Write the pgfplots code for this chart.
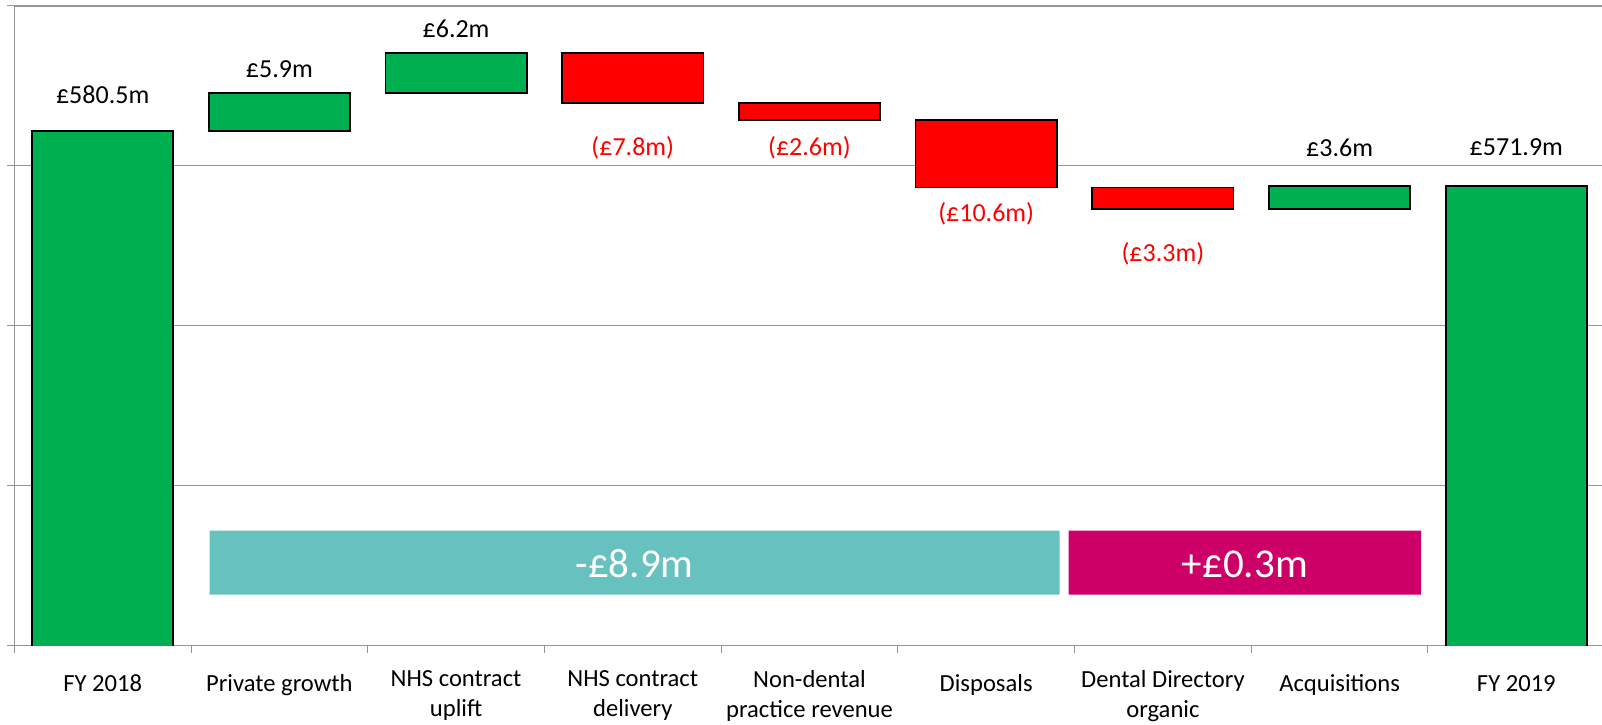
\documentclass[border=0pt]{standalone}
\usepackage{fontspec}
\setmainfont{Carlito}
\usepackage{pgfplots}
\usepackage{pgfplotstable}
\pgfplotsset{compat=1.18}
\definecolor{barg}{HTML}{00B050}
\definecolor{barr}{HTML}{FF0000}
\definecolor{bandteal}{HTML}{67C1BF}
\definecolor{bandmag}{HTML}{CC0066}
\definecolor{gridg}{RGB}{150,150,150}

\pgfplotstableread{
x base up down
0 0 580.5 0
1 580.5 5.9 0
2 586.4 6.2 0
3 584.8 0 7.8
4 582.2 0 2.6
5 571.6 0 10.6
6 568.3 0 3.3
7 568.3 3.6 0
8 0 571.9 0
}\wf

\pgfplotstableread{
x y label
0 584.8 £580.5m
1 588.85 £5.9m
2 595.1 £6.2m
7 576.4 £3.6m
8 576.6 £571.9m
}\poslab

\pgfplotstableread{
x y label
3 576.6 (£7.8m)
4 576.6 (£2.6m)
5 566.3 (£10.6m)
6 560.0 (£3.3m)
}\neglab

\pgfplotsset{common/.style={scale only axis, width=795.2pt, height=319.85pt,
  xmin=-0.5, xmax=8.5, ymin=500, ymax=600},
  labelplot/.style={only marks, mark=*, mark size=0pt,
  scatter/use mapped color={draw=none, fill=none},
  point meta=explicit symbolic, nodes near coords,
  every node near coord/.append style={anchor=base, inner sep=0pt, font=\fontsize{13}{15}\selectfont, text=#1}}}

\begin{document}
\begin{tikzpicture}
\begin{axis}[common, name=ax, ybar stacked, bar width=0.8,
  axis lines*=left, axis line style={gridg, line width=0.6pt},
  ytick={500,525,...,600}, yticklabels={},
  ymajorgrids, grid style={gridg, line width=0.6pt},
  tick align=outside, major tick length=3.5pt,
  tick style={gridg, line width=0.5pt},
  xtick={-0.5,0.5,...,7.5}, xticklabels={},
  extra x ticks={0,1,...,8},
  extra x tick labels={FY 2018, Private growth, {NHS contract\\uplift}, {NHS contract\\delivery}, {Non-dental\\practice revenue}, Disposals, {Dental Directory\\organic}, Acquisitions, FY 2019},
  extra x tick style={major tick length=0pt, grid=none},
  xticklabel style={font=\fontsize{12.3}{15}\selectfont, align=center, anchor=north, inner sep=0pt, execute at begin node=\strut, yshift=-12.1pt},
]
\addplot[draw=none, fill=none] table[x=x, y=base] {\wf};
\addplot[fill=barg, draw=black, line width=0.85pt] table[x=x, y=up] {\wf};
\addplot[fill=barr, draw=black, line width=0.85pt] table[x=x, y=down] {\wf};
\end{axis}
\begin{axis}[common, hide axis, clip=false]
\addplot[fill=bandteal, draw=none] coordinates {(0.605,508) (5.415,508) (5.415,518) (0.605,518) (0.605,508)};
\addplot[fill=bandmag, draw=none] coordinates {(5.467,508) (7.461,508) (7.461,518) (5.467,518) (5.467,508)};
\node[anchor=base, text=white, font=\fontsize{20.5}{24}\selectfont] at (axis cs:3.01,510.7) {-£8.9m};
\node[anchor=base, text=white, font=\fontsize{20.5}{24}\selectfont] at (axis cs:6.464,510.7) {+£0.3m};
\addplot[labelplot=black] table[x=x, y=y, meta=label] {\poslab};
\addplot[labelplot=barr] table[x=x, y=y, meta=label] {\neglab};
\end{axis}
\pgfresetboundingbox
\path (ax.south west) ++(-7.15pt,-39.15pt) rectangle ++(801pt,362pt);
\end{tikzpicture}
\end{document}
